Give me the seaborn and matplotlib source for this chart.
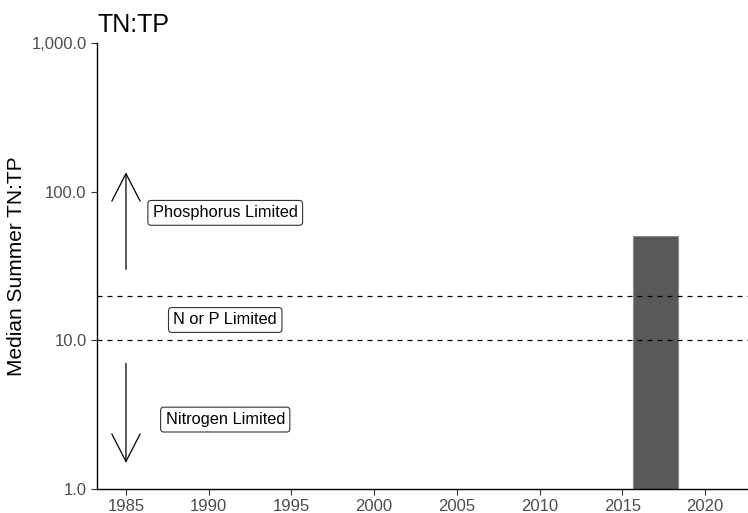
import matplotlib
matplotlib.use("Agg")
from matplotlib import pyplot as plt
from matplotlib.ticker import FuncFormatter, FixedLocator, NullLocator
import seaborn as sns
import pandas as pd

# data
years = [2017]
ratio = [50.0]
limit_lines = [10, 20]
x_ticks = [1985, 1990, 1995, 2000, 2005, 2010, 2015, 2020]
y_ticks = [1, 10, 100, 1000]

# annotation positions (year, ratio)
up_arrow = ((1985, 30), (1985, 135))
down_arrow = ((1985, 7), (1985, 1.5))
labels = [("Phosphorus Limited", 1991, 72),
          ("N or P Limited", 1991, 13.7),
          ("Nitrogen Limited", 1991, 2.93)]

sns.set_theme(style="ticks")
plt.rcParams['font.family'] = ['Liberation Sans', 'DejaVu Sans']

df = pd.DataFrame({'year': years, 'ratio': ratio})

fig = plt.figure(figsize=(7.48, 5.13), dpi=100)
ax = fig.add_axes([0.1297, 0.0468, 0.8703, 0.8694])
ax.set_yscale('log')

sns.barplot(data=df, x='year', y='ratio', native_scale=True, width=2.7,
            color='#595959', saturation=1, edgecolor='#8c8c8c', linewidth=0.8, ax=ax)

for v in limit_lines:
    ax.axhline(v, color='black', linestyle=(0, (4, 4)), linewidth=0.9)

for start, end in [up_arrow, down_arrow]:
    ax.annotate('', xy=end, xytext=start,
                arrowprops=dict(arrowstyle='->,head_length=1.65,head_width=0.85',
                                color='black', linewidth=0.9, shrinkA=0, shrinkB=0))

for text, x, y in labels:
    ax.text(x, y, text, ha='center', va='center', fontsize=11.8, color='black',
            bbox=dict(boxstyle='round,pad=0.3,rounding_size=0.2', fc='white',
                      ec='#333333', lw=0.8))

ax.set_xlim(1983.25, 2022.6)
ax.set_ylim(1, 1000)
ax.xaxis.set_major_locator(FixedLocator(x_ticks))
ax.yaxis.set_major_locator(FixedLocator(y_ticks))
ax.yaxis.set_minor_locator(NullLocator())
ax.yaxis.set_major_formatter(FuncFormatter(lambda v, p: f"{v:,.1f}"))
ax.xaxis.set_major_formatter(FuncFormatter(lambda v, p: f"{int(v)}"))

ax.tick_params(axis='both', labelsize=12, labelcolor='#4d4d4d', color='#333333',
               length=4, width=0.8)
ax.set_xlabel('')
ax.set_ylabel('Median Summer TN:TP', fontsize=15, color='black')
ax.set_title('TN:TP', fontsize=18, loc='left', pad=8, color='black')

sns.despine(ax=ax)
for s in ['left', 'bottom']:
    ax.spines[s].set_color('black')
    ax.spines[s].set_linewidth(1.0)

fig.savefig('out.png', dpi=100)
